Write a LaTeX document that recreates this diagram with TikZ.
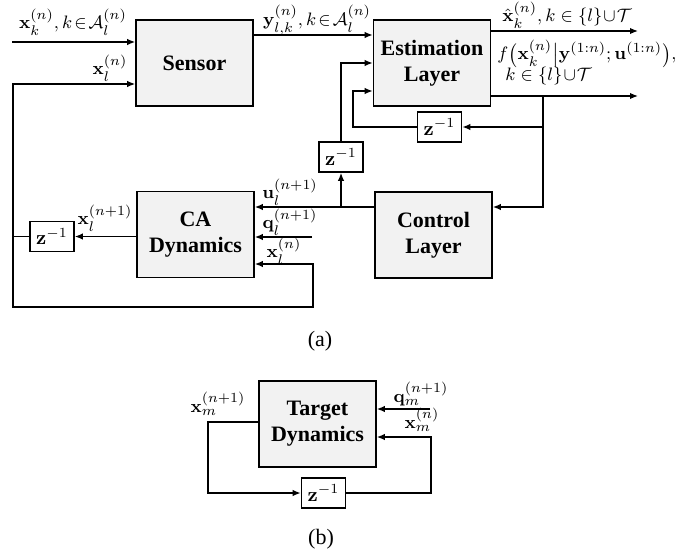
\documentclass[tikz,border=0pt]{standalone}
\usepackage[no-math]{fontspec}
\setmainfont{Liberation Serif}
\usetikzlibrary{arrows.meta}
\begin{document}
\begin{tikzpicture}[x=0.5pt,y=-0.5pt]
\tikzset{
 blk/.style={draw, line width=0.8pt, fill=black!5, minimum width=58.5pt, minimum height=43pt, align=center, font=\fontsize{11}{13}\selectfont\bfseries, inner sep=1pt},
 zbox/.style={draw, line width=0.8pt, fill=white, minimum width=22pt, minimum height=15pt, inner sep=0pt, font=\fontsize{10}{11}\selectfont},
 lbl/.style={font=\fontsize{9.5}{11}\selectfont, inner sep=0pt},
 captxt/.style={font=\fontsize{11}{12}\selectfont, inner sep=0pt},
 ln/.style={line width=0.65pt},
 arr/.style={ln, -{Latex[length=4pt,width=3.2pt]}},
}
\useasboundingbox (0,0) rectangle (696,551);
% blocks
\node[blk] (sensor) at (194.5,63) {Sensor};
\node[blk] (est) at (432,63) {Estimation\\Layer};
\node[blk] (ctrl) at (433.5,235) {Control\\Layer};
\node[blk] (ca) at (195.5,234.5) {CA\\Dynamics};
\node[blk] (tgt) at (317.5,424) {Target\\Dynamics};
\node[zbox] (zE) at (439.5,127) {$\mathbf{z}^{-1}$};
\node[zbox] (zM) at (341,157) {$\mathbf{z}^{-1}$};
\node[zbox] (zC) at (52,236.5) {$\mathbf{z}^{-1}$};
\node[zbox] (zT) at (323.5,493) {$\mathbf{z}^{-1}$};
% coordinates
\coordinate (inA) at (12,42);
\coordinate (Ltop) at (13,84);
\coordinate (Lmid) at (zC.west -| Ltop);
\coordinate (Lbot) at (13,307);
\coordinate (Rbot) at (313,307);
\coordinate (Rin) at (313,264);
\coordinate (qin) at (312,237);
\coordinate (h35) at (0,35);
\coordinate (h63) at (0,63);
\coordinate (h207) at (0,207);
\coordinate (o1) at (638,31);
\coordinate (o2) at (638,96);
\coordinate (br) at (543,96);
\coordinate (fb) at (353,91);
\coordinate (qm) at (430,409);
\coordinate (xmR) at (431,437);
\coordinate (xmL) at (208,422);
% connectors (a)
\draw[arr] (inA) -- (sensor.west |- inA);
\draw[arr] (Lmid) -- (Ltop) -- (sensor.west |- Ltop);
\draw[arr] (Lmid) -- (Lbot) -- (Rbot) -- (Rin) -- (ca.east |- Rin);
\draw[ln] (zC.west) -- (Lmid);
\draw[arr] (ca.west |- zC) -- (zC.east);
\draw[arr] (sensor.east |- h35) -- (est.west |- h35);
\draw[arr] (est.east |- o1) -- (o1);
\draw[arr] (est.east |- o2) -- (o2);
\draw[arr] (br) -- (br |- h207) -- (ctrl.east |- h207);
\draw[arr] (br |- zE) -- (zE.east);
\draw[arr] (zE.west) -| (fb) -- (est.west |- fb);
\draw[arr] (zM.north) -- (zM.north |- h63) -- (est.west |- h63);
\draw[arr] (ctrl.west |- h207) -- (ca.east |- h207);
\draw[arr] (zM.south |- h207) -- (zM.south);
\draw[arr] (qin) -- (ca.east |- qin);
% connectors (b)
\draw[arr] (qm) -- (tgt.east |- qm);
\draw[arr] (zT.east) -| (xmR) -- (tgt.east |- xmR);
\draw[arr] (tgt.west |- xmL) -- (xmL) |- (zT.west);
% labels
\node[lbl] (lxk) at (73,22) {$\mathbf{x}_k^{(n)}, k\!\in\!\mathcal{A}_l^{(n)}$};
\node[lbl] (lxl) at (110,68) {$\mathbf{x}_l^{(n)}$};
\node[lbl] (ly) at (317,20) {$\mathbf{y}_{l,k}^{(n)}, k\!\in\!\mathcal{A}_l^{(n)}$};
\node[lbl] (lxh) at (567,15) {$\hat{\mathbf{x}}_k^{(n)}, k\in\{l\}\!\cup\!\mathcal{T}$};
\node[lbl,anchor=base west] (lf1) at (497,60) {$f\big(\mathbf{x}_k^{(n)}\big|\mathbf{y}^{(1:n)};\mathbf{u}^{(1:n)}\big),$};
\node[lbl,anchor=base west] (lf2) at (505,81) {$k\in\{l\}\!\cup\!\mathcal{T}$};
\node[lbl] (lu) at (290,192) {$\mathbf{u}_l^{(n+1)}$};
\node[lbl] (lq) at (290,222) {$\mathbf{q}_l^{(n+1)}$};
\node[lbl] (lxn) at (284,251) {$\mathbf{x}_l^{(n)}$};
\node[lbl] (lxn1) at (105,218) {$\mathbf{x}_l^{(n+1)}$};
\node[lbl] (lxm1) at (218,404) {$\mathbf{x}_m^{(n+1)}$};
\node[lbl] (lqm) at (421,394) {$\mathbf{q}_m^{(n+1)}$};
\node[lbl] (lxm) at (422,420) {$\mathbf{x}_m^{(n)}$};
\node[captxt] (capa) at (320,341) {(a)};
\node[captxt] (capb) at (321,539) {(b)};
\end{tikzpicture}
\end{document}
